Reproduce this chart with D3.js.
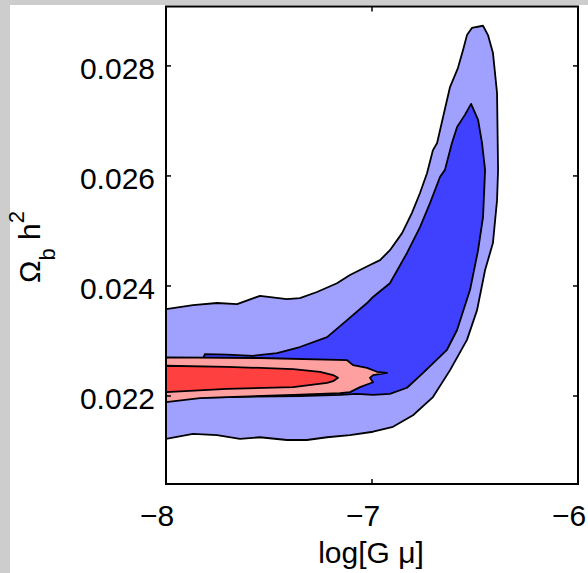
<!DOCTYPE html>
<html>
<head>
<meta charset="utf-8">
<script src="https://cdn.jsdelivr.net/npm/d3@7"></script>
<style>
  html, body { margin: 0; padding: 0; background: #cdcdcd; }
  svg { display: block; }
  text { font-family: "Liberation Sans", Arial, Helvetica, sans-serif; fill: #000; }
</style>
</head>
<body>
<svg id="chart" width="588" height="573"></svg>
<script>
// Axis ticks
const xTicks = [-8, -7, -6];
const xTickLabels = ["\u22128", "\u22127", "\u22126"];
const yTicks = [0.022, 0.024, 0.026, 0.028];
const yTickLabels = ["0.022", "0.024", "0.026", "0.028"];

// Marginalised posterior contours in the (log[G mu], Omega_b h^2) plane.
// Blue: 95% and 68% regions for the first data combination.
const blue95 = [
  [-8.0, 0.02358], [-7.869, 0.02365], [-7.752, 0.02369], [-7.655, 0.02367],
  [-7.544, 0.02382], [-7.413, 0.02376], [-7.350, 0.02378], [-7.267, 0.02389],
  [-7.170, 0.02405], [-7.107, 0.02420], [-7.010, 0.02438], [-6.961, 0.02447],
  [-6.913, 0.02465], [-6.854, 0.02496], [-6.806, 0.02533], [-6.767, 0.02569],
  [-6.733, 0.02605], [-6.704, 0.02647], [-6.684, 0.02660], [-6.655, 0.02707],
  [-6.621, 0.02762], [-6.583, 0.02796], [-6.558, 0.02829], [-6.539, 0.02856],
  [-6.515, 0.02869], [-6.461, 0.02873], [-6.437, 0.02856], [-6.413, 0.02824],
  [-6.393, 0.02751], [-6.388, 0.02611], [-6.393, 0.02556], [-6.413, 0.02478],
  [-6.451, 0.02429], [-6.490, 0.02356], [-6.539, 0.02302], [-6.621, 0.02247],
  [-6.704, 0.02198], [-6.801, 0.02165], [-6.898, 0.02144], [-6.995, 0.02135],
  [-7.107, 0.02129], [-7.218, 0.02125], [-7.316, 0.02120], [-7.413, 0.02120],
  [-7.544, 0.02125], [-7.641, 0.02122], [-7.752, 0.02129], [-7.869, 0.02131],
  [-8.0, 0.02122]
];
const blue68 = [
  [-8.0, 0.02267], [-7.820, 0.02269], [-7.811, 0.02276], [-7.704, 0.02275],
  [-7.578, 0.02273], [-7.461, 0.02278], [-7.350, 0.02289], [-7.218, 0.02307],
  [-7.121, 0.02338], [-7.024, 0.02369], [-6.995, 0.02380], [-6.913, 0.02405],
  [-6.830, 0.02460], [-6.767, 0.02507], [-6.718, 0.02551], [-6.670, 0.02598],
  [-6.646, 0.02611], [-6.612, 0.02660], [-6.587, 0.02689], [-6.549, 0.02711],
  [-6.519, 0.02731], [-6.485, 0.02702], [-6.466, 0.02660], [-6.451, 0.02611],
  [-6.461, 0.02525], [-6.485, 0.02465], [-6.524, 0.02393], [-6.587, 0.02320],
  [-6.636, 0.02284], [-6.752, 0.02242], [-6.830, 0.02215], [-6.913, 0.02204],
  [-6.995, 0.02202], [-7.073, 0.02204], [-7.155, 0.02202], [-7.350, 0.02200],
  [-7.689, 0.02198], [-8.0, 0.02196]
];
// Red: 95% and 68% regions for the second data combination.
const red95 = [
  [-8.0, 0.02270], [-7.544, 0.02269], [-7.121, 0.02265], [-7.092, 0.02256],
  [-7.024, 0.02251], [-6.976, 0.02244], [-6.927, 0.02242], [-6.995, 0.02238],
  [-7.010, 0.02233], [-6.995, 0.02225], [-7.058, 0.02216], [-7.107, 0.02207],
  [-7.155, 0.02205], [-7.383, 0.02202], [-7.704, 0.02198], [-7.835, 0.02196],
  [-8.0, 0.02189]
];
const red68 = [
  [-8.0, 0.02255], [-7.704, 0.02253], [-7.383, 0.02249], [-7.252, 0.02244],
  [-7.189, 0.02238], [-7.165, 0.02233], [-7.189, 0.02227], [-7.218, 0.02224],
  [-7.383, 0.02216], [-7.704, 0.02213], [-8.0, 0.02207]
];

const regions = [
  { pts: blue95, fill: "#a0a0ff" },
  { pts: blue68, fill: "#4040ff" },
  { pts: red95,  fill: "#ffa0a0" },
  { pts: red68,  fill: "#ff4040" }
];

const svg = d3.select("#chart");

// white figure panel on the grey window
svg.append("rect").attr("x", 10).attr("y", 5).attr("width", 578).attr("height", 568).attr("fill", "#fff");

const x = d3.scaleLinear().domain([-8, -6]).range([166, 578]);
const y = d3.scaleLinear().domain([0.0204, 0.02908]).range([484, 6.5]);

svg.append("clipPath").attr("id", "plotclip")
  .append("rect").attr("x", 166).attr("y", 6.5).attr("width", 412).attr("height", 477.5);

const area = d3.line().x(d => x(d[0])).y(d => y(d[1])).curve(d3.curveLinearClosed);

svg.append("g").attr("clip-path", "url(#plotclip)")
  .selectAll("path").data(regions).join("path")
  .attr("d", d => area(d.pts))
  .attr("fill", d => d.fill)
  .attr("stroke", "#000")
  .attr("stroke-width", 1.8)
  .attr("stroke-linejoin", "round");

// inward ticks on all four sides
const tickLen = 5;
const tk = svg.append("g").attr("stroke", "#000").attr("stroke-width", 1.5);
xTicks.forEach(v => {
  tk.append("line").attr("x1", x(v)).attr("x2", x(v)).attr("y1", 484).attr("y2", 484 - tickLen);
  tk.append("line").attr("x1", x(v)).attr("x2", x(v)).attr("y1", 6.5).attr("y2", 6.5 + tickLen);
});
yTicks.forEach(v => {
  tk.append("line").attr("x1", 166).attr("x2", 166 + tickLen).attr("y1", y(v)).attr("y2", y(v));
  tk.append("line").attr("x1", 578).attr("x2", 578 - tickLen).attr("y1", y(v)).attr("y2", y(v));
});

// axes box
svg.append("rect").attr("x", 166).attr("y", 6.5).attr("width", 412).attr("height", 477.5)
  .attr("fill", "none").attr("stroke", "#000").attr("stroke-width", 2);

// tick labels
svg.append("g").selectAll("text").data(xTicks).join("text")
  .attr("x", d => x(d) + 8.3).attr("y", 526)
  .attr("text-anchor", "end").attr("font-size", 30)
  .text((d, i) => xTickLabels[i]);

svg.append("g").selectAll("text").data(yTicks).join("text")
  .attr("x", 155).attr("y", d => y(d) + 13.5)
  .attr("text-anchor", "end").attr("font-size", 30)
  .text((d, i) => yTickLabels[i]);

// axis titles
svg.append("text").attr("x", 371).attr("y", 563).attr("text-anchor", "middle")
  .attr("font-size", 30).text("log[G \u03bc]");

const yl = svg.append("text")
  .attr("transform", "translate(40,247) rotate(-90)")
  .attr("text-anchor", "middle").attr("font-size", 30);
yl.append("tspan").text("\u03a9");
yl.append("tspan").attr("font-size", 22).attr("dy", 15).text("b");
yl.append("tspan").attr("dy", -15).text(" h");
yl.append("tspan").attr("font-size", 22).attr("dy", -16).text("2");
</script>
</body>
</html>
